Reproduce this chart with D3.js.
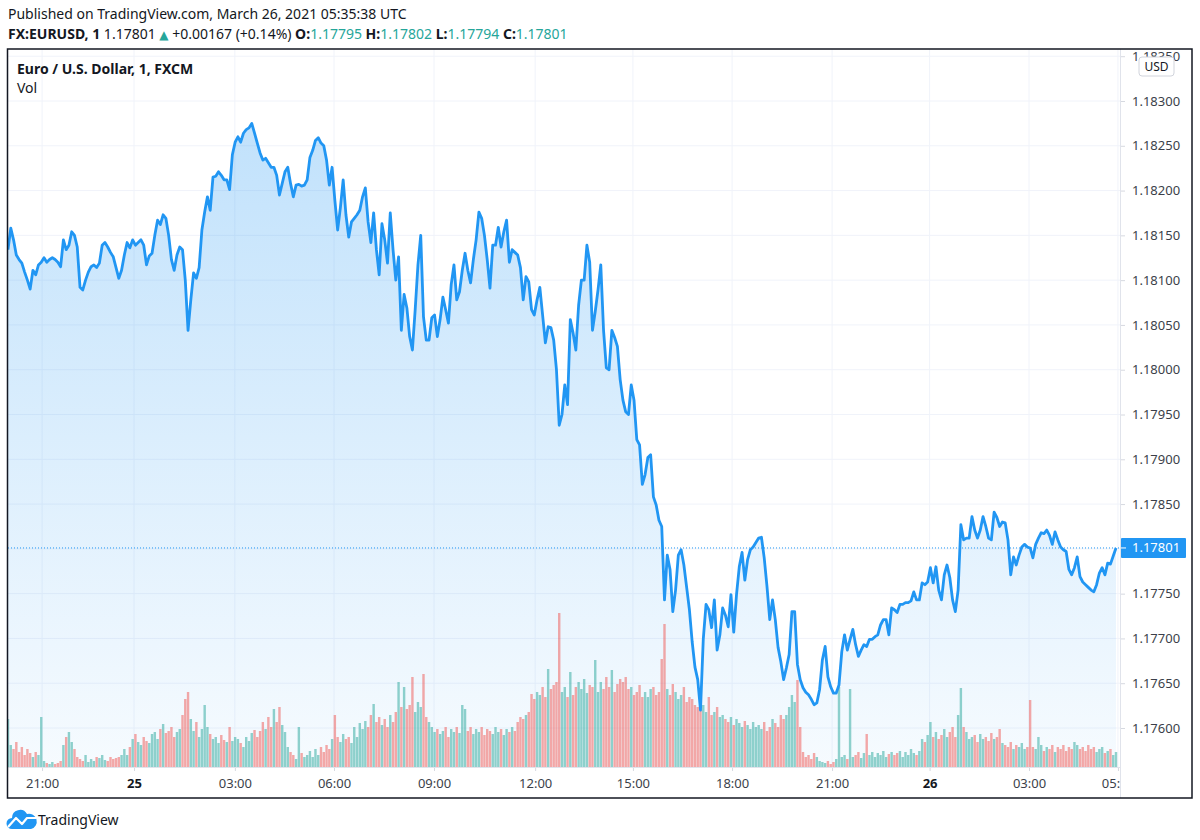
<!DOCTYPE html>
<html>
<head>
<meta charset="utf-8">
<script src="https://cdn.jsdelivr.net/npm/d3@7"></script>
<style>
  body { margin: 0; background: #fff; }
  svg { display: block; font-family: "Noto Sans", "Open Sans", "DejaVu Sans", sans-serif; }
</style>
</head>
<body>
<div id="chart"></div>
<script>
// EURUSD 1-min chart, every ~5 minutes
const prices = [
  1.18134, 1.18158, 1.18145, 1.18128, 1.18123, 1.18119, 1.18109, 1.18100, 1.18090, 1.18111,
  1.18106, 1.18117, 1.18120, 1.18125, 1.18120, 1.18123, 1.18125, 1.18123, 1.18120, 1.18115,
  1.18145, 1.18134, 1.18139, 1.18154, 1.18150, 1.18137, 1.18092, 1.18089, 1.18100, 1.18109,
  1.18115, 1.18117, 1.18114, 1.18119, 1.18139, 1.18142, 1.18137, 1.18131, 1.18126, 1.18114,
  1.18102, 1.18111, 1.18128, 1.18142, 1.18136, 1.18145, 1.18139, 1.18142, 1.18145, 1.18139,
  1.18117, 1.18127, 1.18130, 1.18150, 1.18167, 1.18162, 1.18173, 1.18169, 1.18150, 1.18123,
  1.18111, 1.18128, 1.18137, 1.18134, 1.18100, 1.18044, 1.18078, 1.18108, 1.18102, 1.18114,
  1.18156, 1.18176, 1.18193, 1.18178, 1.18215, 1.18216, 1.18221, 1.18217, 1.18212, 1.18212,
  1.18201, 1.18240, 1.18254, 1.18260, 1.18254, 1.18264, 1.18268, 1.18270, 1.18275, 1.18264,
  1.18253, 1.18242, 1.18234, 1.18236, 1.18231, 1.18226, 1.18226, 1.18217, 1.18195, 1.18208,
  1.18221, 1.18226, 1.18208, 1.18193, 1.18206, 1.18207, 1.18205, 1.18206, 1.18212, 1.18237,
  1.18245, 1.18256, 1.18259, 1.18253, 1.18250, 1.18234, 1.18206, 1.18226, 1.18189, 1.18156,
  1.18181, 1.18212, 1.18173, 1.18148, 1.18165, 1.18169, 1.18173, 1.18178, 1.18193, 1.18203,
  1.18165, 1.18142, 1.18175, 1.18134, 1.18106, 1.18163, 1.18145, 1.18119, 1.18175, 1.18134,
  1.18100, 1.18126, 1.18044, 1.18084, 1.18069, 1.18037, 1.18022, 1.18067, 1.18117, 1.18150,
  1.18059, 1.18033, 1.18033, 1.18058, 1.18061, 1.18037, 1.18056, 1.18081, 1.18067, 1.18052,
  1.18095, 1.18117, 1.18078, 1.18087, 1.18111, 1.18130, 1.18111, 1.18097, 1.18123, 1.18145,
  1.18176, 1.18169, 1.18150, 1.18123, 1.18091, 1.18139, 1.18139, 1.18159, 1.18137, 1.18154,
  1.18167, 1.18120, 1.18134, 1.18131, 1.18128, 1.18114, 1.18078, 1.18104, 1.18098, 1.18067,
  1.18061, 1.18078, 1.18092, 1.18061, 1.18030, 1.18048, 1.18047, 1.18033, 1.18000, 1.17938,
  1.17950, 1.17983, 1.17961, 1.18056, 1.18041, 1.18022, 1.18072, 1.18100, 1.18100, 1.18139,
  1.18120, 1.18044, 1.18065, 1.18089, 1.18117, 1.18044, 1.18002, 1.18000, 1.18044, 1.18036,
  1.18026, 1.17989, 1.17966, 1.17953, 1.17950, 1.17983, 1.17966, 1.17922, 1.17916, 1.17872,
  1.17883, 1.17902, 1.17905, 1.17858, 1.17849, 1.17832, 1.17825, 1.17743, 1.17793, 1.17777,
  1.17730, 1.17754, 1.17793, 1.17799, 1.17782, 1.17757, 1.17732, 1.17696, 1.17668, 1.17654,
  1.17620, 1.17699, 1.17738, 1.17732, 1.17712, 1.17743, 1.17687, 1.17704, 1.17734, 1.17726,
  1.17713, 1.17749, 1.17707, 1.17749, 1.17780, 1.17796, 1.17765, 1.17788, 1.17799, 1.17802,
  1.17807, 1.17812, 1.17813, 1.17790, 1.17758, 1.17721, 1.17743, 1.17721, 1.17690, 1.17674,
  1.17654, 1.17667, 1.17682, 1.17730, 1.17730, 1.17671, 1.17654, 1.17645, 1.17640, 1.17637,
  1.17632, 1.17626, 1.17628, 1.17643, 1.17676, 1.17691, 1.17657, 1.17646, 1.17639, 1.17639,
  1.17648, 1.17685, 1.17704, 1.17687, 1.17699, 1.17710, 1.17693, 1.17680, 1.17687, 1.17693,
  1.17691, 1.17699, 1.17699, 1.17702, 1.17704, 1.17715, 1.17721, 1.17721, 1.17704, 1.17734,
  1.17732, 1.17729, 1.17738, 1.17738, 1.17740, 1.17740, 1.17742, 1.17752, 1.17743, 1.17743,
  1.17762, 1.17760, 1.17763, 1.17779, 1.17762, 1.17780, 1.17754, 1.17743, 1.17771, 1.17782,
  1.17768, 1.17743, 1.17730, 1.17754, 1.17827, 1.17810, 1.17812, 1.17812, 1.17836, 1.17821,
  1.17812, 1.17821, 1.17836, 1.17825, 1.17812, 1.17810, 1.17841, 1.17835, 1.17825, 1.17830,
  1.17829, 1.17810, 1.17771, 1.17791, 1.17782, 1.17793, 1.17802, 1.17805, 1.17802, 1.17801,
  1.17790, 1.17805, 1.17812, 1.17818, 1.17817, 1.17821, 1.17815, 1.17805, 1.17819, 1.17810,
  1.17802, 1.17799, 1.17797, 1.17777, 1.17771, 1.17779, 1.17791, 1.17769, 1.17763, 1.17760,
  1.17757, 1.17754, 1.17752, 1.17760, 1.17773, 1.17779, 1.17771, 1.17784, 1.17783, 1.17792,
  1.17801
];

const volumes = [
  48, 22, 18, 25, 15, 20, 12, 18, 14, 10,
  15, 12, 50, 6, 4, 3, 5, 3, 4, 6,
  22, 30, 35, 25, 18, 10, 8, 6, 12, 5,
  8, 6, 10, 9, 12, 7, 6, 10, 8, 9,
  10, 12, 18, 12, 20, 28, 33, 25, 22, 30,
  26, 24, 33, 35, 28, 38, 43, 34, 36, 40,
  30, 35, 38, 52, 68, 75, 48, 36, 45, 30,
  38, 62, 40, 33, 28, 30, 24, 32, 27, 25,
  40, 26, 30, 28, 24, 20, 30, 26, 34, 37,
  30, 36, 45, 38, 50, 40, 58, 45, 60, 42,
  35, 20, 15, 12, 8, 40, 14, 10, 12, 16,
  10, 18, 12, 20, 15, 22, 18, 28, 52, 30,
  25, 33, 28, 30, 24, 40, 30, 44, 38, 46,
  40, 52, 63, 45, 50, 42, 48, 40, 52, 45,
  55, 85, 60, 80, 58, 62, 90, 55, 65, 60,
  93, 50, 45, 40, 35, 38, 33, 36, 40, 30,
  38, 35, 40, 34, 62, 58, 36, 40, 33, 38,
  35, 40, 32, 38, 36, 33, 40, 35, 38, 32,
  38, 35, 40, 36, 45, 50, 48, 52, 55, 73,
  68, 75, 72, 80, 70, 98, 78, 82, 85, 154,
  75, 80, 70, 95, 72, 80, 85, 78, 88, 74,
  82, 80, 107, 75, 85, 78, 90, 80, 97, 75,
  83, 88, 85, 90, 78, 80, 72, 75, 82, 70,
  75, 70, 78, 80, 72, 75, 108, 143, 78, 72,
  83, 75, 68, 72, 80, 65, 70, 68, 62, 60,
  58, 62, 55, 70, 52, 55, 60, 50, 52, 48,
  45, 50, 42, 48, 44, 40, 46, 42, 38, 45,
  40, 42, 38, 45, 36, 40, 48, 44, 40, 52,
  48, 52, 60, 72, 65, 87, 40, 15, 10, 12,
  8, 14, 10, 6, 5, 4, 6, 3, 5, 8,
  80, 10, 12, 8, 78, 10, 12, 15, 9, 14,
  33, 12, 15, 10, 14, 12, 16, 10, 13, 15,
  12, 14, 16, 10, 15, 12, 18, 14, 12, 16,
  28, 25, 32, 45, 30, 35, 28, 32, 38, 30,
  35, 40, 30, 52, 79, 40, 35, 28, 30, 32,
  25, 33, 28, 30, 26, 34, 28, 30, 38, 24,
  22, 20, 25, 18, 22, 20, 24, 18, 20, 67,
  20, 18, 30, 22, 16, 20, 18, 22, 15, 20,
  18, 22, 16, 20, 18, 25, 22, 18, 20, 16,
  22, 18, 20, 15, 18, 20, 14, 16, 18, 12,
  15
];

// time axis (positions are sample indices)
const timeLabels = ["21:00", "25", "03:00", "06:00", "09:00", "12:00", "15:00", "18:00", "21:00", "26", "03:00", "05:30"];
const timeIdx = [12.3, 45.5, 81.9, 117.7, 153.8, 190.3, 225.6, 261.4, 297.5, 332.7, 368.6, 400.7];
const dayLabels = ["25", "26"];

const priceTicks = [1.176, 1.1765, 1.177, 1.1775, 1.178, 1.1785, 1.179, 1.1795, 1.18, 1.1805, 1.181, 1.1815, 1.182, 1.1825, 1.183, 1.1835];
const lastPrice = 1.17801;

const publishedText = "Published on TradingView.com, March 26, 2021 05:35:38 UTC";
const symbolText = "FX:EURUSD, 1";
const changeText = "+0.00167 (+0.14%)";
const ohlcKeys = ["O:", "H:", "L:", "C:"];
const ohlcVals = ["1.17795", "1.17802", "1.17794", "1.17801"];
const legendTitle = "Euro / U.S. Dollar, 1, FXCM";

const W = 1200, H = 840;
const pL = 8, pR = 1120, pT = 49, pB = 767;
const frameR = 1192, frameB = 798;

const blue = "#2196f3";
const teal = "#26a69a";
const textCol = "#131722";

const svg = d3.select("#chart").append("svg")
  .attr("width", W)
  .attr("height", H);

const defs = svg.append("defs");

defs.append("clipPath").attr("id", "plotClip")
  .append("rect")
  .attr("x", pL).attr("y", pT)
  .attr("width", pR - pL).attr("height", pB - pT);

defs.append("clipPath").attr("id", "timeClip")
  .append("rect")
  .attr("x", pL).attr("y", pB)
  .attr("width", pR - pL).attr("height", frameB - pB);

const grad = defs.append("linearGradient")
  .attr("id", "areaGrad")
  .attr("gradientUnits", "userSpaceOnUse")
  .attr("x1", 0).attr("x2", 0)
  .attr("y1", 120).attr("y2", pB);
grad.append("stop").attr("offset", 0).attr("stop-color", blue).attr("stop-opacity", 0.28);
grad.append("stop").attr("offset", 1).attr("stop-color", blue).attr("stop-opacity", 0.04);

// Scales
const x = d3.scaleLinear().domain([0, prices.length - 1]).range([pL, 1116]);
const y = d3.scaleLinear().domain([1.176, 1.183]).range([728, 101]);
const v = d3.scaleLinear().domain([0, 160]).range([pB, pB - 160]);

// Header
svg.append("text")
  .attr("x", 8).attr("y", 19)
  .attr("font-size", 14)
  .attr("fill", textCol)
  .text(publishedText);

const head = svg.append("text")
  .attr("x", 8).attr("y", 39)
  .attr("font-size", 14)
  .attr("fill", textCol)
  .style("white-space", "pre");
head.append("tspan").attr("font-weight", "bold").text(symbolText);
head.append("tspan").text(" " + d3.format(".5f")(lastPrice) + " ");
head.append("tspan").attr("fill", teal).attr("font-family", "DejaVu Sans").attr("font-size", 12).text("\u25B2");
head.append("tspan").text(" " + changeText + " ");
ohlcKeys.forEach((k, i) => {
  head.append("tspan").attr("font-weight", "bold").text((i > 0 ? " " : "") + k);
  head.append("tspan").attr("fill", teal).text(ohlcVals[i]);
});

const plot = svg.append("g").attr("clip-path", "url(#plotClip)");

// Grid
plot.selectAll(".hgrid")
  .data(priceTicks)
  .enter()
  .append("line")
  .attr("x1", pL).attr("x2", pR)
  .attr("y1", d => y(d)).attr("y2", d => y(d))
  .attr("stroke", "#f0f3fa");

plot.selectAll(".vgrid")
  .data(timeIdx)
  .enter()
  .append("line")
  .attr("x1", d => x(d)).attr("x2", d => x(d))
  .attr("y1", pT).attr("y2", pB)
  .attr("stroke", "#f0f3fa");

// Area
const area = d3.area()
  .x((d, i) => x(i))
  .y0(pB)
  .y1(d => y(d));

plot.append("path")
  .datum(prices)
  .attr("d", area)
  .attr("fill", "url(#areaGrad)");

// Volume
plot.selectAll(".vol")
  .data(volumes)
  .enter()
  .append("rect")
  .attr("x", (d, i) => x(i) - 1.2)
  .attr("width", 2.4)
  .attr("y", d => v(d))
  .attr("height", d => pB - v(d))
  .attr("fill", (d, i) => (i > 0 && prices[i] < prices[i - 1]) ? "rgba(239,83,80,0.5)" : "rgba(38,166,154,0.5)");

// Last price dotted line
plot.append("line")
  .attr("x1", pL).attr("x2", pR)
  .attr("y1", y(lastPrice)).attr("y2", y(lastPrice))
  .attr("stroke", blue)
  .attr("stroke-dasharray", "1 2");

// Line
const line = d3.line()
  .x((d, i) => x(i))
  .y(d => y(d));

plot.append("path")
  .datum(prices)
  .attr("d", line)
  .attr("fill", "none")
  .attr("stroke", blue)
  .attr("stroke-width", 2.8)
  .attr("stroke-linejoin", "round");

// Legend
svg.append("text")
  .attr("x", 17).attr("y", 74)
  .attr("font-size", 14)
  .attr("font-weight", "bold")
  .attr("fill", textCol)
  .text(legendTitle);

svg.append("text")
  .attr("x", 17).attr("y", 93)
  .attr("font-size", 14)
  .attr("fill", textCol)
  .text("Vol");

// Price axis
const yAxis = d3.axisRight(y)
  .tickValues(priceTicks)
  .tickFormat(d3.format(".5f"))
  .tickSize(5)
  .tickPadding(7);

const ya = svg.append("g")
  .attr("transform", `translate(${pR},0)`)
  .call(yAxis);
ya.select(".domain").remove();
ya.selectAll("line").attr("stroke", "#d6d9e0");
ya.selectAll("text")
  .attr("font-family", "Noto Sans")
  .attr("font-size", 13)
  .attr("fill", "#3b3f4a");

// Time axis
const xAxis = d3.axisBottom(x)
  .tickValues(timeIdx)
  .tickFormat((d, i) => timeLabels[i])
  .tickSize(4)
  .tickPadding(8);

const xa = svg.append("g")
  .attr("clip-path", "url(#timeClip)")
  .append("g")
  .attr("transform", `translate(0,${pB})`)
  .call(xAxis);
xa.select(".domain").remove();
xa.selectAll("line").attr("stroke", "#d6d9e0");
xa.selectAll("text")
  .attr("font-family", "Noto Sans")
  .attr("font-size", 13)
  .attr("font-weight", (d, i) => dayLabels.includes(timeLabels[i]) ? "bold" : "normal")
  .attr("fill", (d, i) => dayLabels.includes(timeLabels[i]) ? textCol : "#3b3f4a");

// Separators
svg.append("line")
  .attr("x1", pL).attr("x2", pR)
  .attr("y1", pB + 0.5).attr("y2", pB + 0.5)
  .attr("stroke", "#e0e3eb");
svg.append("line")
  .attr("x1", pR + 0.5).attr("x2", pR + 0.5)
  .attr("y1", pT).attr("y2", frameB)
  .attr("stroke", "#e0e3eb");

// USD badge (sits over the top price label, as in the original)
svg.append("rect")
  .attr("x", 1139).attr("y", 57)
  .attr("width", 35).attr("height", 19)
  .attr("rx", 3)
  .attr("fill", "#fff")
  .attr("stroke", "#d1d4dc");
svg.append("text")
  .attr("x", 1156.5).attr("y", 71)
  .attr("text-anchor", "middle")
  .attr("font-size", 12)
  .attr("fill", textCol)
  .text("USD");

// Last price label
const ly = y(lastPrice);
svg.append("rect")
  .attr("x", pR + 1).attr("y", ly - 10)
  .attr("width", 65).attr("height", 20)
  .attr("rx", 1)
  .attr("fill", blue);
svg.append("line")
  .attr("x1", pR + 1).attr("x2", pR + 6)
  .attr("y1", ly).attr("y2", ly)
  .attr("stroke", "#fff");
svg.append("text")
  .attr("x", pR + 12).attr("y", ly + 4.5)
  .attr("font-size", 13)
  .attr("fill", "#fff")
  .text(d3.format(".5f")(lastPrice));

// Frame
svg.append("rect")
  .attr("x", 7.5).attr("y", pT)
  .attr("width", frameR - 7.5).attr("height", frameB - pT)
  .attr("fill", "none")
  .attr("stroke", "#131722")
  .attr("stroke-width", 1.5);

// TradingView logo
const logo = svg.append("g");
logo.append("path")
  .attr("d", "M12,829 A5.5,5.5 0 0 1 12,818 A8,8 0 0 1 27,814 A7,7 0 0 1 31,829 Z")
  .attr("fill", "#2196f3");
logo.append("polyline")
  .attr("points", "8,827 16,818 22,824 27,818 36,818")
  .attr("fill", "none")
  .attr("stroke", "#fff")
  .attr("stroke-width", 2.2)
  .attr("stroke-linejoin", "round");
svg.append("text")
  .attr("x", 38).attr("y", 825)
  .attr("font-size", 14)
  .attr("fill", textCol)
  .text("TradingView");
</script>
</body>
</html>
